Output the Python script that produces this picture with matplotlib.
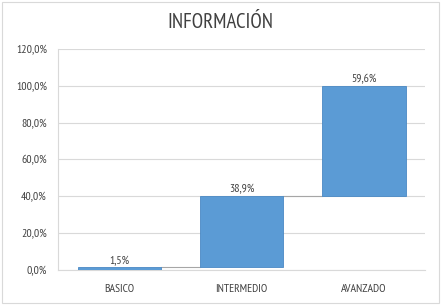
import matplotlib
matplotlib.use("Agg")
import matplotlib.pyplot as plt
from matplotlib.ticker import FuncFormatter
from matplotlib.patches import Rectangle
import numpy as np

categories = ["BASICO", "INTERMEDIO", "AVANZADO"]
values = [1.5, 38.9, 59.6]
labels = ["1,5%", "38,9%", "59,6%"]
yticks = [0, 20, 40, 60, 80, 100, 120]

plt.rcParams['font.family'] = ['PT Sans Narrow', 'Carlito', 'DejaVu Sans']

fig = plt.figure(figsize=(4.41, 3.05), dpi=100)
fig.patches.append(Rectangle((0.005, 0.005), 0.99, 0.99, transform=fig.transFigure,
                             fill=False, edgecolor='#d9d9d9', linewidth=0.8))
ax = fig.add_axes([0.1315, 0.1148, 0.8325, 0.7245])

x = np.arange(len(categories))
bottoms = np.concatenate([[0], np.cumsum(values)[:-1]])
width = 0.68
ax.bar(x, values, bottom=bottoms, width=width, color='#5B9BD5', edgecolor='#4a89c4',
       linewidth=0.6, zorder=3)

tops = bottoms + np.array(values)
for i in range(len(values) - 1):
    ax.plot([x[i] + width / 2, x[i + 1] - width / 2], [tops[i], tops[i]],
            color='#a6a6a6', linewidth=0.8, zorder=2)

for xi, t, lab in zip(x, tops, labels):
    ax.text(xi, t + 0.8, lab, ha='center', va='bottom', fontsize=8.5, color='#404040')

ax.set_xlim(-0.5, 2.5)
ax.set_ylim(0, 120)
ax.set_yticks(yticks)
ax.yaxis.set_major_formatter(FuncFormatter(lambda v, p: f"{v:.1f}%".replace('.', ',')))
ax.set_xticks(x)
ax.set_xticklabels(categories)
ax.tick_params(axis='both', length=0, labelsize=8.5, labelcolor='#404040')
ax.tick_params(axis='x', pad=10)
ax.tick_params(axis='y', pad=8)
ax.grid(axis='y', color='#d9d9d9', linewidth=0.8, zorder=0)
for s in ['top', 'right']:
    ax.spines[s].set_visible(False)
ax.spines['left'].set_color('#d9d9d9')
ax.spines['bottom'].set_color('#d9d9d9')

fig.text(0.5, 0.925, "INFORMACIÓN", ha='center', va='center', fontsize=15, color='#404040')

fig.savefig("out.png", dpi=100)
